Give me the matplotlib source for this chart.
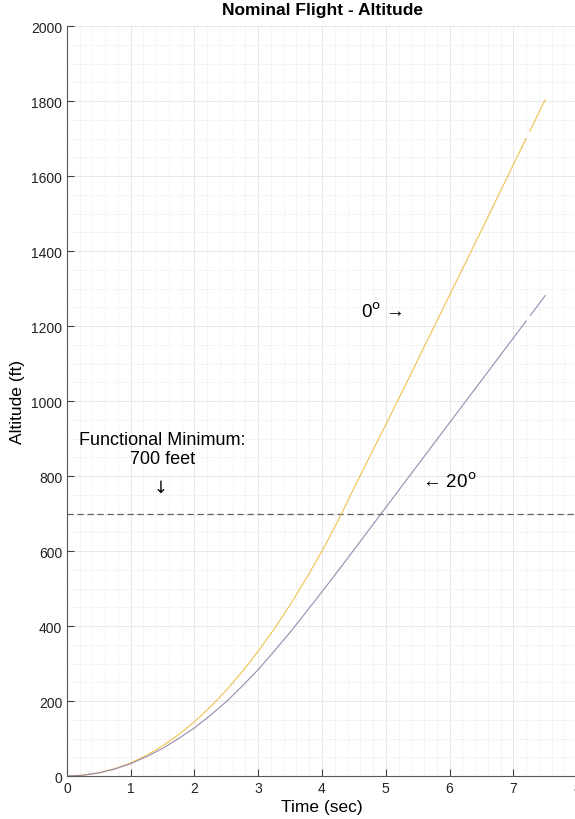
import numpy as np
import matplotlib
matplotlib.use("Agg")
import matplotlib.pyplot as plt
from matplotlib.ticker import MultipleLocator

plt.rcParams['font.family'] = ['Liberation Sans', 'DejaVu Sans']

# Data
t_0deg = [0, 0.25, 0.5, 0.75, 1.0, 1.25, 1.5, 1.75, 2.0, 2.25, 2.5, 2.75, 3.0,
          3.25, 3.5, 3.75, 4.0, 4.25, 4.5, 4.75, 5.0, 5.5, 6.0, 6.5, 7.0, 7.2,
          7.23, 7.26, 7.5]
alt_0deg = [0, 2, 8.5, 19.4, 35, 55.3, 80.4, 110.2, 144.9, 184.5, 229, 278.4, 332.8,
            392.2, 456.5, 526, 600, 680, 767, 853, 936, 1109, 1282, 1455, 1630, 1700,
            np.nan, 1720, 1803]

t_20deg = [0, 0.25, 0.5, 0.75, 1.0, 1.25, 1.5, 1.75, 2.0, 2.25, 2.5, 2.75, 3.0,
           3.25, 3.5, 3.75, 4.0, 4.25, 4.5, 4.75, 5.0, 5.5, 6.0, 6.5, 7.0, 7.2,
           7.235, 7.27, 7.5]
alt_20deg = [0, 2.2, 8.5, 18.8, 33, 52, 73.5, 100, 128.5, 162, 198.5, 240, 284,
             333, 383.5, 437, 491.5, 547, 603, 659.5, 716, 829, 942, 1055, 1168, 1213,
             np.nan, 1229, 1281]

min_altitude = 700
x_ticks = [0, 1, 2, 3, 4, 5, 6, 7, 8]
y_ticks = [0, 200, 400, 600, 800, 1000, 1200, 1400, 1600, 1800, 2000]

fig = plt.figure(figsize=(5.75, 8.2), dpi=100)
ax = fig.add_axes([0.1165, 0.0524, 0.8870, 0.9146])

ax.plot(t_0deg, alt_0deg, color='#EDB120', lw=0.85, alpha=0.75, zorder=3)
ax.plot(t_20deg, alt_20deg, color='#8c7ca6', lw=0.85, alpha=0.85, zorder=3)
ax.axhline(min_altitude, color='#606060', lw=0.9, ls=(0, (5, 3)), zorder=2)

ax.set_xlim(0, 8)
ax.set_ylim(0, 2000)
ax.set_xticks(x_ticks)
ax.set_yticks(y_ticks)
ax.xaxis.set_minor_locator(MultipleLocator(0.2))
ax.yaxis.set_minor_locator(MultipleLocator(50))

ax.grid(which='major', color='#e8e8e8', lw=0.7)
ax.grid(which='minor', color='#e2e2e2', lw=0.6, ls=':')
ax.set_axisbelow(True)

ax.tick_params(which='major', direction='in', length=5, width=0.8,
               colors='#404040', labelsize=10, labelcolor='#222222')
ax.tick_params(which='minor', length=0)
for s in ['top', 'right']:
    ax.spines[s].set_visible(False)
for s in ['left', 'bottom']:
    ax.spines[s].set_color('#555555')
    ax.spines[s].set_linewidth(0.8)

fig.text(0.5617, 1 - 11 / 820, 'Nominal Flight - Altitude', ha='center', va='center',
         fontsize=12.5, fontweight='bold')
ax.set_xlabel('Time (sec)', fontsize=12.5, labelpad=3)
ax.set_ylabel('Altitude (ft)', fontsize=12.5, labelpad=4)

ax.text(1.5, 872, 'Functional Minimum:\n700 feet', ha='center', va='center',
        fontsize=13, linespacing=1.1)
ax.text(1.47, 772, '\u2193', ha='center', va='center', fontsize=12,
        family=['DejaVu Sans'])
ax.text(4.94, 1240, '0$^{\\rm o}$ \u2192', ha='center', va='center', fontsize=13.5)
ax.text(6.0, 787, '\u2190 20$^{\\rm o}$', ha='center', va='center', fontsize=13.5)

fig.savefig('out.png', dpi=100)
